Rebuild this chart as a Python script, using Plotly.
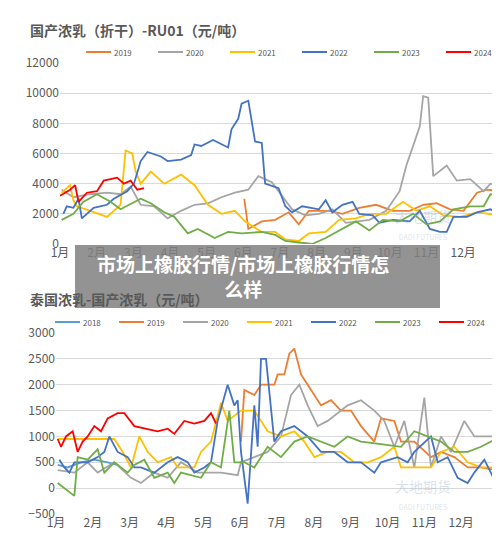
import plotly.graph_objects as go

# readings: x in zoom px (top: 1月=160, 109 px/month; bottom: 1月=145, 110.5 px/month)
top_2019_x=[708,720,760,800,840,870,900,960,1000,1050,1100,1150,1200,1240,1280,1320,1360,1400,1430,1470]
top_2019_y=[3000,1000,1500,1600,2100,1300,2200,2200,2000,2400,2600,2200,2200,2600,2700,2300,2200,3400,3600,3500]
top_2020_x=[165,200,250,300,340,370,400,440,480,520,560,600,640,680,720,750,790,820,850,890,930,970,1010,1080,1130,1170,1190,1210,1230,1240,1255,1270,1310,1340,1380,1420,1440,1470]
top_2020_y=[3600,3100,3300,3400,3300,3800,2600,2500,1700,2200,2600,2700,3100,3400,3600,4500,4100,3200,2300,1900,2000,2300,1400,1600,2200,3500,5200,6500,7800,9800,9700,4500,5200,4200,4300,3500,4000,3800]
top_2021_x=[165,190,200,210,250,300,340,355,375,385,400,430,470,520,560,600,640,680,710,760,800,830,870,900,950,990,1040,1080,1130,1180,1220,1260,1300,1350,1400,1470]
top_2021_y=[3400,3900,2900,2500,2200,1800,2600,6200,6000,4800,4000,4800,4000,4600,3900,2600,2000,2200,1500,800,800,300,200,700,800,1600,1700,2000,2000,2800,2200,2500,1900,1800,2100,1900]
top_2022_x=[170,180,200,215,225,260,300,320,360,380,400,420,460,480,520,550,560,580,615,660,670,690,700,720,740,760,770,810,830,850,880,930,950,970,1000,1030,1050,1090,1110,1150,1200,1230,1260,1290,1310,1330,1370,1400,1440,1470]
top_2022_y=[2000,2500,2400,3000,1700,2400,2600,3000,3500,4000,5500,6100,5800,5500,5600,5900,6600,6500,6900,6400,7600,8300,9300,9500,6800,6700,4000,3700,2500,2100,2500,2300,2900,2100,2600,2800,2000,1900,1400,1600,1500,2200,1000,800,800,1800,1800,2100,2300,2000]
top_2023_x=[165,200,230,270,310,340,400,430,470,500,540,570,620,660,700,760,800,830,870,910,950,1000,1040,1080,1120,1170,1210,1250,1290,1330,1380,1420,1440,1465]
top_2023_y=[1600,2000,2800,3300,2800,2300,3000,2700,2100,1800,700,1000,400,800,700,800,600,200,100,0,400,1000,1500,900,1600,1500,2000,1300,1500,2300,2500,2500,3300,3200]
top_2024_x=[160,175,190,205,215,240,270,290,330,350,370,390,410]
top_2024_y=[3200,3400,3600,3900,2800,3400,3500,4200,4400,4000,4200,3600,3700]

bot_2018_x=[150,180,220,260,300,330]
bot_2018_y=[450,400,500,550,500,450]
bot_2019_x=[700,710,740,760,800,810,830,845,860,880,900,920,940,970,1000,1030,1060,1100,1120,1160,1180,1220,1270,1300,1340,1380,1420,1465]
bot_2019_y=[900,1900,1800,2000,2000,2200,2200,2600,2700,2200,2000,1800,1600,1700,1500,1500,1200,900,1350,1300,900,900,600,700,600,400,400,350]
bot_2020_x=[150,200,240,270,320,370,400,440,480,520,570,640,690,700,740,780,820,850,875,900,930,960,1000,1020,1060,1100,1130,1160,1190,1220,1250,1270,1300,1330,1370,1400,1430,1465]
bot_2020_y=[350,300,500,300,500,200,100,300,200,500,300,300,250,500,600,700,1000,1800,2000,1600,1200,1300,1500,1600,1700,1500,1300,800,1300,400,1750,400,1000,700,1300,1000,1000,1000]
bot_2021_x=[150,180,320,345,370,395,420,450,490,510,560,580,610,640,660,700,740,780,820,860,890,920,960,1000,1040,1080,1120,1160,1180,1220,1270,1300,1340,1380,1420,1465]
bot_2021_y=[950,950,950,700,400,1000,700,500,600,400,400,700,900,1650,1300,1500,1500,1100,1000,1100,900,600,700,700,500,500,600,800,400,400,400,700,800,500,400,400]
bot_2022_x=[155,170,185,200,240,270,290,305,330,360,380,400,440,480,510,540,560,590,610,630,660,680,690,700,720,740,750,760,775,790,800,820,860,900,940,980,1020,1060,1100,1120,1170,1200,1220,1270,1290,1320,1350,1380,1400,1430,1465]
bot_2022_y=[550,400,300,500,500,600,700,1000,700,600,400,400,300,500,600,500,300,400,500,1300,2000,1600,1700,700,-300,1600,800,2500,2500,1600,900,1100,1200,1000,700,700,500,500,300,500,600,500,700,1000,500,600,200,100,300,550,100]
bot_2023_x=[150,180,200,210,240,270,290,320,360,380,410,440,480,500,520,580,610,640,665,680,710,740,780,820,860,900,940,980,1020,1060,1120,1180,1220,1260,1300,1340,1380,1420,1465]
bot_2023_y=[100,-50,-150,600,550,750,300,500,300,450,550,200,300,100,300,200,500,400,1500,500,500,400,800,600,900,1000,900,800,1000,900,850,800,1100,1000,900,700,700,800,950]
bot_2024_x=[150,160,175,195,210,225,240,260,280,300,330,350,380,420,450,480,500,530,560,590,610,625]
bot_2024_y=[950,800,1000,1100,700,900,1000,1200,1100,1350,1450,1450,1200,1150,1100,1150,1050,1300,1250,1300,1450,1250]

years=["2018","2019","2020","2021","2022","2023","2024"]
colors={"2018":"#5b9bd5","2019":"#ed7d31","2020":"#a5a5a5","2021":"#ffc000","2022":"#4472c4","2023":"#70ad47","2024":"#ff0000"}
months=[f"{i}月" for i in range(1,13)]

top={"2019":(top_2019_x,top_2019_y),"2020":(top_2020_x,top_2020_y),"2021":(top_2021_x,top_2021_y),
     "2022":(top_2022_x,top_2022_y),"2023":(top_2023_x,top_2023_y),"2024":(top_2024_x,top_2024_y)}
bot={"2018":(bot_2018_x,bot_2018_y),"2019":(bot_2019_x,bot_2019_y),"2020":(bot_2020_x,bot_2020_y),"2021":(bot_2021_x,bot_2021_y),
     "2022":(bot_2022_x,bot_2022_y),"2023":(bot_2023_x,bot_2023_y),"2024":(bot_2024_x,bot_2024_y)}

fig=go.Figure()
for y,(xs,vs) in top.items():
    fig.add_trace(go.Scatter(x=[(v-160)/109 for v in xs],y=vs,mode="lines",line=dict(color=colors[y],width=1.8),xaxis="x",yaxis="y",showlegend=False))
for y,(xs,vs) in bot.items():
    fig.add_trace(go.Scatter(x=[(v-145)/110.5 for v in xs],y=vs,mode="lines",line=dict(color=colors[y],width=1.8),xaxis="x2",yaxis="y2",showlegend=False))

shapes=[];ann=[]
def legend(items,x0,dx,ypx,lw):
    for i,y in enumerate(items):
        xs=x0+i*dx
        shapes.append(dict(type="line",xref="paper",yref="paper",x0=xs/500,x1=(xs+lw)/500,y0=1-ypx/537,y1=1-ypx/537,line=dict(color=colors[y],width=2)))
        ann.append(dict(x=(xs+lw+2)/500,y=1-ypx/537,xref="paper",yref="paper",text=y,showarrow=False,xanchor="left",yanchor="middle",borderpad=0,font=dict(size=8,color="#595959")))
legend(years[1:],78,72,44,25)
legend(years,47,64,314,25)

ann.append(dict(x=20/500,y=1-22/537,xref="paper",yref="paper",text="<b>国产浓乳（折干）-RU01（元/吨）</b>",showarrow=False,xanchor="left",yanchor="middle",font=dict(size=14,color="#595959")))
ann.append(dict(x=20/500,y=1-291/537,xref="paper",yref="paper",text="<b>泰国浓乳-国产浓乳（元/吨）</b>",showarrow=False,xanchor="left",yanchor="middle",font=dict(size=14,color="#595959")))
for yy in [216,486]:
    ann.append(dict(x=445/500,y=1-yy/537,xref="paper",yref="paper",text="大地期货<br><span style='font-size:7px'>DADI FUTURES</span>",showarrow=False,yanchor="middle",font=dict(size=14,color="rgba(150,170,200,0.35)")))
shapes.append(dict(type="rect",xref="paper",yref="paper",x0=67/500,x1=432/500,y0=1-300/537,y1=1-237/537,fillcolor="rgba(128,128,128,0.85)",line=dict(width=0),layer="above"))
ann.append(dict(x=235/500,y=1-268/537,xref="paper",yref="paper",text="<b>市场上橡胶行情/市场上橡胶行情怎<br>么样</b>",showarrow=False,yanchor="middle",font=dict(size=19,color="white"),align="center"))

ax=dict(tickvals=list(range(12)),ticktext=months,showgrid=False,zeroline=False,tickfont=dict(size=12,color="#595959"),ticks="",automargin=False)
ay=dict(gridcolor="#d9d9d9",zeroline=False,tickfont=dict(size=12,color="#595959"),ticks="",tickformat="d",automargin=False)
fig.update_layout(width=500,height=537,margin=dict(l=0,r=0,t=0,b=0),plot_bgcolor="white",paper_bgcolor="white",
    font=dict(family="Noto Sans CJK SC"),
    xaxis=dict(ax,domain=[52/500,490/500],range=[0,11.95],anchor="y"),
    yaxis=dict(ay,domain=[1-236/537,1-55/537],range=[0,12000],tickvals=list(range(0,12001,2000)),anchor="x"),
    xaxis2=dict(ax,domain=[48/500,490/500],range=[0,12.0],anchor="y2"),
    yaxis2=dict(ay,domain=[1-506/537,1-325/537],range=[-500,3000],tickvals=list(range(-500,3001,500)),anchor="x2"),
    shapes=shapes,annotations=ann)
fig.write_html("out.html")
